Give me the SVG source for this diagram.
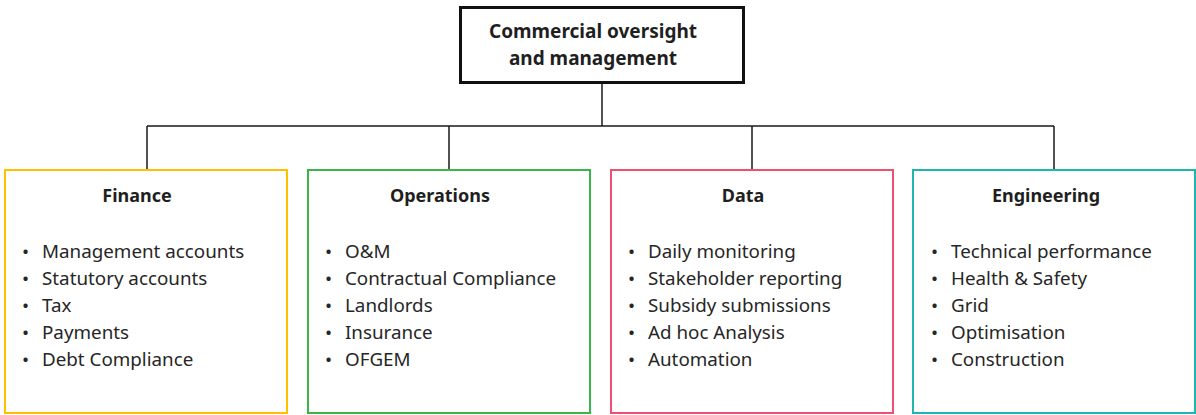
<svg xmlns="http://www.w3.org/2000/svg" width="1196" height="415" viewBox="0 0 1196 415">
<style>
.bg{fill:#ffffff}
.box{fill:#ffffff;stroke-width:2}
.top{fill:#ffffff;stroke:#111111;stroke-width:3}
.conn{fill:none;stroke:#1a1a1a;stroke-width:1.5}
.title{font-family:"Noto Sans","Open Sans",sans-serif;font-weight:bold;font-size:18px;fill:#1f1f1f;text-anchor:middle}
.rt{font-size:19px}
.item{font-family:"Noto Sans","Open Sans",sans-serif;font-size:18.8px;fill:#262626}
</style>
<rect class="bg" x="0" y="0" width="1196" height="415"/>
<g id="connectors">
<path class="conn" d="M602 83 V126 M147 126 H1054 M147 126 V170 M449 126 V170 M752 126 V170 M1054 126 V170"/>
</g>
<g id="root">
<rect class="top" x="460.5" y="7.5" width="283" height="75"/>
<text class="title rt" x="593" y="38">Commercial oversight</text>
<text class="title rt" x="593" y="65">and management</text>
</g>
<g id="finance">
<rect class="box" x="5" y="170" width="282" height="243" stroke="#FFC000"/>
<text class="title" x="137" y="202">Finance</text>
<g class="item">
<text x="22" y="258">•</text><text x="42" y="258">Management accounts</text>
<text x="22" y="285">•</text><text x="42" y="285">Statutory accounts</text>
<text x="22" y="312">•</text><text x="42" y="312">Tax</text>
<text x="22" y="339">•</text><text x="42" y="339">Payments</text>
<text x="22" y="366">•</text><text x="42" y="366">Debt Compliance</text>
</g>
</g>
<g id="operations">
<rect class="box" x="308" y="170" width="282" height="243" stroke="#3BB44A"/>
<text class="title" x="440" y="202">Operations</text>
<g class="item">
<text x="325" y="258">•</text><text x="345" y="258">O&amp;M</text>
<text x="325" y="285">•</text><text x="345" y="285">Contractual Compliance</text>
<text x="325" y="312">•</text><text x="345" y="312">Landlords</text>
<text x="325" y="339">•</text><text x="345" y="339">Insurance</text>
<text x="325" y="366">•</text><text x="345" y="366">OFGEM</text>
</g>
</g>
<g id="data">
<rect class="box" x="611" y="170" width="282" height="243" stroke="#F0506E"/>
<text class="title" x="743" y="202">Data</text>
<g class="item">
<text x="628" y="258">•</text><text x="648" y="258">Daily monitoring</text>
<text x="628" y="285">•</text><text x="648" y="285">Stakeholder reporting</text>
<text x="628" y="312">•</text><text x="648" y="312">Subsidy submissions</text>
<text x="628" y="339">•</text><text x="648" y="339">Ad hoc Analysis</text>
<text x="628" y="366">•</text><text x="648" y="366">Automation</text>
</g>
</g>
<g id="engineering">
<rect class="box" x="913" y="170" width="282" height="243" stroke="#1FB6B1"/>
<text class="title" x="1046" y="202">Engineering</text>
<g class="item">
<text x="931" y="258">•</text><text x="951" y="258">Technical performance</text>
<text x="931" y="285">•</text><text x="951" y="285">Health &amp; Safety</text>
<text x="931" y="312">•</text><text x="951" y="312">Grid</text>
<text x="931" y="339">•</text><text x="951" y="339">Optimisation</text>
<text x="931" y="366">•</text><text x="951" y="366">Construction</text>
</g>
</g>
</svg>
